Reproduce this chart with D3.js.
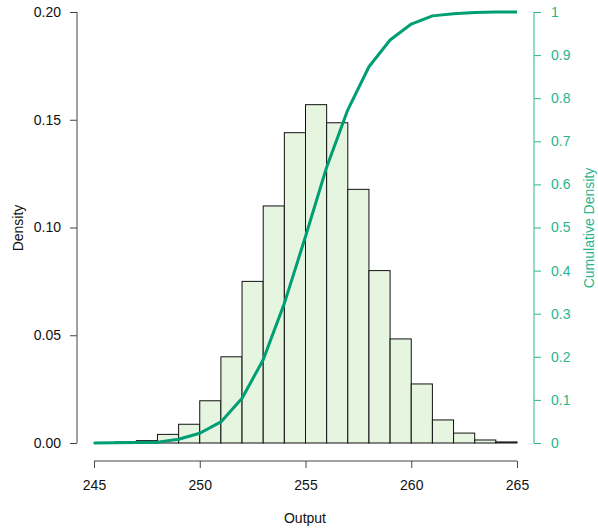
<!DOCTYPE html>
<html>
<head>
<meta charset="utf-8">
<script src="https://cdn.jsdelivr.net/npm/d3@7"></script>
<style>
body { margin: 0; background: #fff; }
svg { display: block; font-family: "Liberation Sans", Arial, Helvetica, sans-serif; }
</style>
</head>
<body>
<svg id="chart" width="598" height="529"></svg>
<script>
// Histogram bins (left edges, width 1) and densities
const binStarts = [245, 246, 247, 248, 249, 250, 251, 252, 253, 254, 255, 256, 257, 258, 259, 260, 261, 262, 263, 264];
const densities = [0.0001, 0.0005, 0.0011, 0.0040, 0.0087, 0.0196, 0.0400, 0.0750, 0.1100, 0.1440, 0.1570, 0.1486, 0.1177, 0.0800, 0.0483, 0.0274, 0.0107, 0.0046, 0.0014, 0.0005];
// Cumulative density curve
const cumX = [245, 246, 247, 248, 249, 250, 251, 252, 253, 254, 255, 256, 257, 258, 259, 260, 261, 262, 263, 264, 265];
const cumY = [0.0, 0.0005, 0.001, 0.002, 0.0086, 0.0225, 0.049, 0.104, 0.193, 0.324, 0.479, 0.640, 0.773, 0.873, 0.935, 0.972, 0.991, 0.996, 0.999, 1.0, 1.0];
// Tick labels
const xTicks = [245, 250, 255, 260, 265];
const yTicks = [0, 0.05, 0.10, 0.15, 0.20];
const y2Ticks = [0, 0.1, 0.2, 0.3, 0.4, 0.5, 0.6, 0.7, 0.8, 0.9, 1];

const svg = d3.select("#chart");
const x = d3.scaleLinear().domain([245, 265]).range([94, 517]);
const y = d3.scaleLinear().domain([0, 0.20]).range([443, 12]);
const y2 = d3.scaleLinear().domain([0, 1]).range([443, 12]);

const green = "#009E73";
const axisGreen = "#2bb58a";
const fs = 14;

// bars
svg.append("g").selectAll("rect")
  .data(binStarts.map((b, i) => ({ b, d: densities[i] })))
  .join("rect")
  .attr("x", d => x(d.b))
  .attr("y", d => y(d.d))
  .attr("width", d => x(d.b + 1) - x(d.b))
  .attr("height", d => y(0) - y(d.d))
  .attr("fill", "#e5f5e0")
  .attr("stroke", "#111")
  .attr("stroke-width", 1);

// cumulative line
svg.append("path")
  .datum(cumX.map((v, i) => [v, cumY[i]]))
  .attr("d", d3.line().x(d => x(d[0])).y(d => y2(d[1])))
  .attr("fill", "none")
  .attr("stroke", green)
  .attr("stroke-width", 3)
  .attr("stroke-linejoin", "round");

// left axis
const gy = svg.append("g").attr("transform", "translate(77,0)")
  .call(d3.axisLeft(y).tickValues(yTicks).tickFormat(d3.format(".2f")).tickSize(7).tickPadding(9));
gy.select(".domain").attr("stroke", "#444").attr("d", "M0," + y(0) + "V" + y(0.2));
gy.selectAll(".tick line").attr("stroke", "#444");
gy.selectAll("text").attr("font-size", fs).attr("fill", "#111").attr("font-family", "Liberation Sans, Arial, sans-serif");

// bottom axis
const gx = svg.append("g").attr("transform", "translate(0,461)")
  .call(d3.axisBottom(x).tickValues(xTicks).tickFormat(d3.format("d")).tickSize(7).tickPadding(12));
gx.select(".domain").attr("stroke", "#444").attr("d", "M" + x(245) + ",0H" + x(265));
gx.selectAll(".tick line").attr("stroke", "#444");
gx.selectAll("text").attr("font-size", fs).attr("fill", "#111").attr("font-family", "Liberation Sans, Arial, sans-serif");

// right axis
const gr = svg.append("g").attr("transform", "translate(534,0)")
  .call(d3.axisRight(y2).tickValues(y2Ticks).tickFormat(d => d === 0 || d === 1 ? String(d) : d3.format(".1f")(d)).tickSize(7).tickPadding(10));
gr.select(".domain").attr("stroke", axisGreen).attr("d", "M0," + y2(0) + "V" + y2(1));
gr.selectAll(".tick line").attr("stroke", axisGreen);
gr.selectAll("text").attr("font-size", fs).attr("fill", axisGreen).attr("font-family", "Liberation Sans, Arial, sans-serif");

// axis titles
svg.append("text").attr("x", 305).attr("y", 523).attr("text-anchor", "middle")
  .attr("font-size", fs).attr("fill", "#111").text("Output");
svg.append("text").attr("transform", "translate(23,228) rotate(-90)").attr("text-anchor", "middle")
  .attr("font-size", fs).attr("fill", "#111").text("Density");
svg.append("text").attr("transform", "translate(594,228) rotate(-90)").attr("text-anchor", "middle")
  .attr("font-size", fs).attr("fill", axisGreen).text("Cumulative Density");
</script>
</body>
</html>
